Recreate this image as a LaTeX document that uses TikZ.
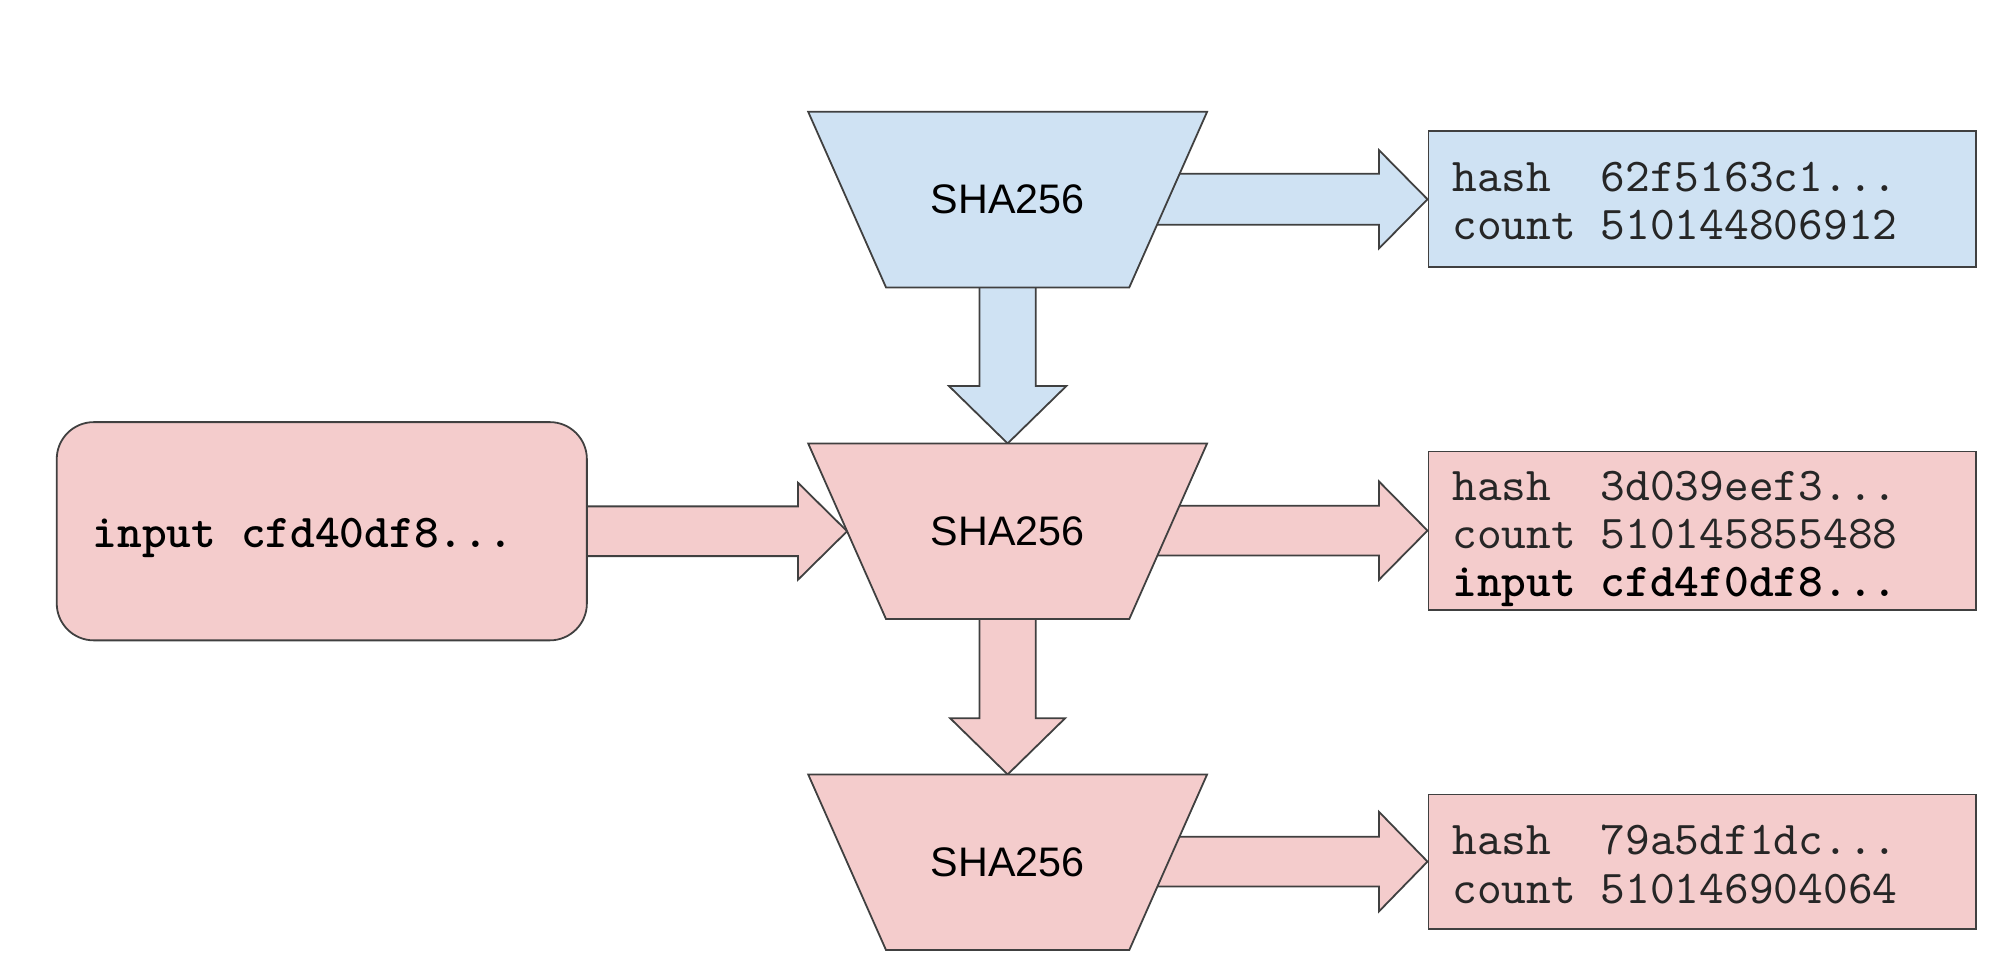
\documentclass[tikz,border=0pt]{standalone}
\usepackage{fontspec}
\setmainfont{Liberation Sans}
\newfontfamily\monof[BoldFont=lmmonolt10-bold.otf]{lmmono10-regular.otf}
\usetikzlibrary{calc}
\pgfdeclarelayer{background}
\pgfdeclarelayer{mid}
\pgfsetlayers{background,mid,main}
\definecolor{bluef}{HTML}{CFE2F3}
\definecolor{pinkf}{HTML}{F4CCCC}
\definecolor{edgec}{HTML}{404040}
% horizontal block arrow: #1 style, #2 from, #3 tip, #4 shaft half, #5 head half, #6 head length
\newcommand{\hblock}[6]{%
  \begin{pgfonlayer}{background}
  \draw[#1] ($(#2 |- #3)+(0,#4)$) -- ($(#3)+(-#6,#4)$) -- ($(#3)+(-#6,#5)$) -- (#3)
    -- ($(#3)+(-#6,-#5)$) -- ($(#3)+(-#6,-#4)$) -- ($(#2 |- #3)+(0,-#4)$) -- cycle;
  \end{pgfonlayer}}
% vertical (downward) block arrow
\newcommand{\vblock}[6]{%
  \begin{pgfonlayer}{background}
  \draw[#1] ($(#3 |- #2)+(#4,0)$) -- ($(#3)+(#4,-#6)$) -- ($(#3)+(#5,-#6)$) -- (#3)
    -- ($(#3)+(-#5,-#6)$) -- ($(#3)+(-#4,-#6)$) -- ($(#3 |- #2)+(-#4,0)$) -- cycle;
  \end{pgfonlayer}}
% trapezoid outline around a named node
\newcommand{\trapshape}[2]{%
  \begin{pgfonlayer}{mid}
  \draw[#1] ($(#2.north west)+(-30.5,0)$) -- ($(#2.north east)+(30.5,0)$)
    -- ($(#2.south east)+(-30.5,0)$) -- ($(#2.south west)+(30.5,0)$) -- cycle;
  \end{pgfonlayer}}
\begin{document}
\begin{tikzpicture}[x=0.01cm,y=-0.01cm,line width=0.45pt,line join=miter,
  trapnode/.style={minimum width=2.5cm,minimum height=1.36cm,inner sep=0pt,
    font=\fontsize{9.2}{11}\selectfont},
  outbox/.style={draw=edgec,minimum width=4.29cm,inner sep=0pt},
  boxtext/.style={anchor=base west,inner sep=0pt,text=black!85,
    font=\monof\fontsize{10.5}{10.8}\selectfont},
  bluefill/.style={fill=bluef,draw=edgec},
  pinkfill/.style={fill=pinkf,draw=edgec}]
\useasboundingbox (0,0) rectangle (1568,767);

% SHA256 blocks
\node[trapnode] (t1) at (790,156.5) {SHA256};
\node[trapnode] (t2) at (790,416.5) {SHA256};
\node[trapnode] (t3) at (790,676) {SHA256};
\trapshape{bluefill}{t1}
\trapshape{pinkfill}{t2}
\trapshape{pinkfill}{t3}

% output boxes
\node[outbox,bluefill,minimum height=1.065cm] (h1) at (1334.5,156.25) {};
\node[outbox,pinkfill,minimum height=1.24cm] (h2) at (1334.5,416) {};
\node[outbox,pinkfill,minimum height=1.05cm] (h3) at (1334.5,675.5) {};
\node[boxtext] (h1t) at (1138,188) {\begin{tabular}[b]{@{}l@{}}hash\ \ 62f5163c1...\\count 510144806912\end{tabular}};
\node[boxtext] (h2t) at (1138,468) {\begin{tabular}[b]{@{}l@{}}hash\ \ 3d039eef3...\\count 510145855488\\\textcolor{black}{\bfseries input cfd4f0df8...}\end{tabular}};
\node[boxtext] (h3t) at (1138,708) {\begin{tabular}[b]{@{}l@{}}hash\ \ 79a5df1dc...\\count 510146904064\end{tabular}};

% input box
\node[pinkfill,rounded corners=0.29cm,minimum width=4.154cm,minimum height=1.71cm,inner sep=0pt] (inp) at (252.3,416.5) {};
\node[boxtext,text=black,font=\monof\bfseries\fontsize{10.5}{10.8}\selectfont] (inpt) at (72,429) {input cfd40df8...};

% block arrows
\hblock{bluefill}{t1.center}{h1.west}{20}{38.5}{38}
\vblock{bluefill}{t1.center}{t2.north}{22}{46}{45}
\hblock{pinkfill}{inp.center}{t2.west}{19.5}{38}{38.5}
\hblock{pinkfill}{t2.center}{h2.west}{19.5}{38.5}{38}
\vblock{pinkfill}{t2.center}{t3.north}{22}{45}{44}
\hblock{pinkfill}{t3.center}{h3.west}{19.5}{39}{38}
\end{tikzpicture}
\end{document}
